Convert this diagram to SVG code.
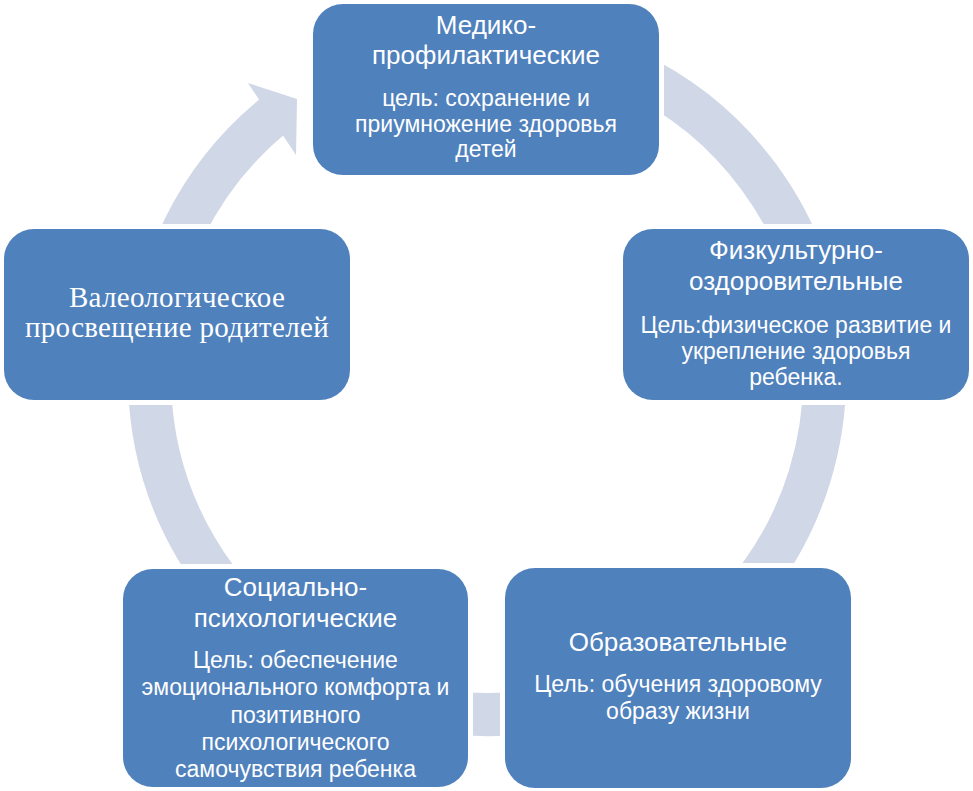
<svg xmlns="http://www.w3.org/2000/svg" width="973" height="791" viewBox="0 0 973 791">
<style>
  .node { fill: #4F81BD; }
  .t { font-family: "Liberation Sans", Arial, sans-serif; fill: #FFFFFF; text-anchor: middle; }
  .h { font-size: 26px; }
  .s { font-size: 23px; }
  .serif { font-family: "Liberation Serif", "Times New Roman", serif; font-size: 29px; letter-spacing: 0.3px; fill: #FFFFFF; text-anchor: middle; }
  .ring { fill: none; stroke: #D0D7E6; stroke-width: 43; }
  .head { fill: #D0D7E6; }
</style>
<defs>
  <mask id="cut" maskUnits="userSpaceOnUse" x="0" y="0" width="973" height="791">
    <rect x="0" y="0" width="973" height="791" fill="#FFFFFF"/>
    <rect x="308" y="-1" width="356" height="181" fill="#000000"/>
    <rect x="618" y="224" width="356" height="181" fill="#000000"/>
    <rect x="500" y="563" width="356" height="230" fill="#000000"/>
    <rect x="118" y="564" width="355" height="228" fill="#000000"/>
    <rect x="-1" y="224" width="356" height="181" fill="#000000"/>
  </mask>
</defs>
<rect x="0" y="0" width="973" height="791" fill="#FFFFFF"/>
<g id="connectors" mask="url(#cut)">
  <path class="ring" d="M 487 39.5 A 337.5 337.5 0 1 1 276.9 112.9"/>
  <polygon class="head" points="248,83 297,99 296,155"/>
</g>
<g id="node-medico">
  <rect class="node" x="313" y="4" width="346" height="171" rx="30" ry="30"/>
  <text class="t h" x="486" y="34">Медико-</text>
  <text class="t h" x="486" y="64">профилактические</text>
  <text class="t s" x="486" y="106">цель: сохранение и</text>
  <text class="t s" x="486" y="132">приумножение здоровья</text>
  <text class="t s" x="486" y="157">детей</text>
</g>
<g id="node-fizkult">
  <rect class="node" x="623" y="229" width="346" height="171" rx="30" ry="30"/>
  <text class="t h" x="796" y="259">Физкультурно-</text>
  <text class="t h" x="796" y="290">оздоровительные</text>
  <text class="t s" x="796" y="333">Цель:физическое развитие и</text>
  <text class="t s" x="796" y="359">укрепление здоровья</text>
  <text class="t s" x="796" y="385">ребенка.</text>
</g>
<g id="node-obraz">
  <rect class="node" x="505" y="568" width="346" height="220" rx="30" ry="30"/>
  <text class="t h" x="678" y="651">Образовательные</text>
  <text class="t s" x="678" y="692">Цель: обучения здоровому</text>
  <text class="t s" x="678" y="719">образу жизни</text>
</g>
<g id="node-social">
  <rect class="node" x="123" y="569" width="345" height="218" rx="30" ry="30"/>
  <text class="t h" x="295.5" y="596">Социально-</text>
  <text class="t h" x="295.5" y="627">психологические</text>
  <text class="t s" x="295.5" y="668">Цель: обеспечение</text>
  <text class="t s" x="295.5" y="695">эмоционального комфорта и</text>
  <text class="t s" x="295.5" y="723">позитивного</text>
  <text class="t s" x="295.5" y="750">психологического</text>
  <text class="t s" x="295.5" y="777">самочувствия ребенка</text>
</g>
<g id="node-valeo">
  <rect class="node" x="4" y="229" width="346" height="171" rx="30" ry="30"/>
  <text class="serif" x="177" y="307">Валеологическое</text>
  <text class="serif" x="177" y="337">просвещение родителей</text>
</g>
</svg>
